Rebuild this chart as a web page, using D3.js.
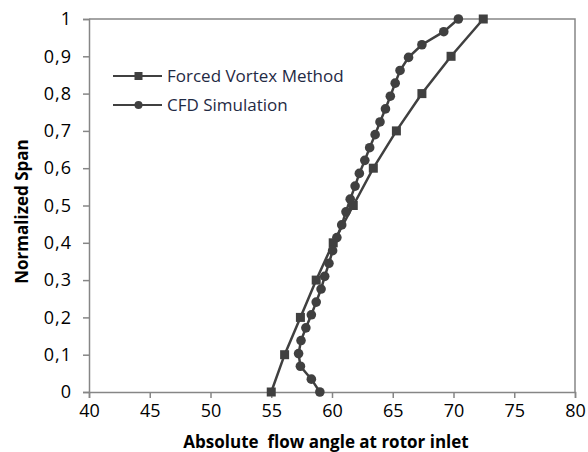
<!DOCTYPE html>
<html>
<head>
<meta charset="utf-8">
<script src="https://cdn.jsdelivr.net/npm/d3@7"></script>
<style>
  body { margin: 0; background: #fff; }
  text { font-family: "Open Sans", "Noto Sans", sans-serif; }
</style>
</head>
<body>
<div id="chart"></div>
<script>
var width = 588
var height = 452

// forced vortex method, one point per 0.1 span
var forcedSpan = [0, 0.1, 0.2, 0.3, 0.4, 0.5, 0.6, 0.7, 0.8, 0.9, 1]
var forcedAngle = [55.0, 56.1, 57.4, 58.7, 60.1, 61.75, 63.4, 65.3, 67.4, 69.8, 72.45]

// CFD simulation
var cfdSpan = [0, 0.0345, 0.069, 0.103, 0.138, 0.172, 0.207, 0.241, 0.276, 0.31,
               0.345, 0.379, 0.414, 0.448, 0.483, 0.517, 0.552, 0.586, 0.621, 0.655,
               0.69, 0.724, 0.759, 0.793, 0.828, 0.862, 0.897, 0.931, 0.966, 1]
var cfdAngle = [59.0, 58.3, 57.4, 57.25, 57.45, 57.85, 58.3, 58.7, 59.1, 59.4,
                59.75, 60.05, 60.4, 60.8, 61.15, 61.5, 61.9, 62.25, 62.7, 63.1,
                63.55, 63.95, 64.4, 64.8, 65.2, 65.6, 66.3, 67.4, 69.2, 70.4]

var xTicks = [40, 45, 50, 55, 60, 65, 70, 75, 80]
var yTicks = [0, 0.1, 0.2, 0.3, 0.4, 0.5, 0.6, 0.7, 0.8, 0.9, 1]
var seriesNames = ["Forced Vortex Method", "CFD Simulation"]

var margin = {left: 89, right: 13, top: 19, bottom: 60}

var x = d3.scaleLinear().domain([40, 80]).range([margin.left, width - margin.right])
var y = d3.scaleLinear().domain([0, 1]).range([height - margin.bottom, margin.top])

var svg = d3.select("#chart").append("svg")
    .attr("width", width)
    .attr("height", height)

var axisColor = "#868686"
var markColor = "#404040"

// plot area border (top + right)
svg.append("path")
    .attr("d", "M" + x(40) + "," + y(1) + "H" + x(80) + "V" + y(0))
    .attr("fill", "none")
    .attr("stroke", axisColor)
    .attr("stroke-width", 1.5)

var xAxis = svg.append("g")
    .attr("transform", "translate(0," + y(0) + ")")
    .call(d3.axisBottom(x).tickValues(xTicks).tickSize(6).tickPadding(6))
var yAxis = svg.append("g")
    .attr("transform", "translate(" + x(40) + ",0)")
    .call(d3.axisLeft(y).tickValues(yTicks).tickSize(6).tickPadding(11)
        .tickFormat(function(d) { return d3.format("")(d).replace(".", ","); }))

;[xAxis, yAxis].forEach(function(g) {
    g.select(".domain").attr("stroke", axisColor).attr("stroke-width", 1.5)
    g.selectAll(".tick line").attr("stroke", axisColor).attr("stroke-width", 1.5)
    g.selectAll(".tick text")
        .attr("fill", "#000")
        .style("font-size", "18px")
})
yAxis.selectAll(".tick text").attr("letter-spacing", "1px")

svg.append("text")
    .attr("x", (x(40) + x(80)) / 2 - 6)
    .attr("y", 448)
    .attr("text-anchor", "middle")
    .style("font-size", "17px")
    .style("font-weight", "bold")
    .attr("fill", "#000")
    .style("white-space", "pre")
    .text("Absolute  flow angle at rotor inlet")

svg.append("text")
    .attr("transform", "translate(28," + (y(0.5) + 6) + ") rotate(-90)")
    .attr("text-anchor", "middle")
    .style("font-size", "17px")
    .style("font-weight", "bold")
    .attr("fill", "#000")
    .text("Normalized Span")

var line = d3.line()
    .x(function(d) { return x(d[0]); })
    .y(function(d) { return y(d[1]); })

var forced = forcedAngle.map(function(a, i) { return [a, forcedSpan[i]]; })
var cfd = cfdAngle.map(function(a, i) { return [a, cfdSpan[i]]; })

svg.append("path").datum(forced)
    .attr("d", line)
    .attr("fill", "none")
    .attr("stroke", markColor)
    .attr("stroke-width", 2.5)
svg.append("path").datum(cfd)
    .attr("d", line)
    .attr("fill", "none")
    .attr("stroke", markColor)
    .attr("stroke-width", 2.5)

svg.selectAll("rect.forced")
    .data(forced)
    .enter().append("rect")
        .attr("class", "forced")
        .attr("x", function(d) { return x(d[0]) - 4.5; })
        .attr("y", function(d) { return y(d[1]) - 4.5; })
        .attr("width", 9)
        .attr("height", 9)
        .attr("fill", markColor)

svg.selectAll("circle.cfd")
    .data(cfd)
    .enter().append("circle")
        .attr("class", "cfd")
        .attr("cx", function(d) { return x(d[0]); })
        .attr("cy", function(d) { return y(d[1]); })
        .attr("r", 4.8)
        .attr("fill", markColor)

// legend
var legend = svg.append("g").attr("transform", "translate(113,76)")
seriesNames.forEach(function(name, i) {
    var g = legend.append("g").attr("transform", "translate(0," + (i * 29) + ")")
    g.append("line")
        .attr("x1", 0).attr("x2", 49)
        .attr("stroke", markColor)
        .attr("stroke-width", 2)
    if (i === 0) {
        g.append("rect").attr("x", 21.5).attr("y", -4).attr("width", 8).attr("height", 8)
            .attr("fill", markColor)
    } else {
        g.append("circle").attr("cx", 25.5).attr("r", 4).attr("fill", markColor)
    }
    g.append("text")
        .attr("x", 54)
        .attr("y", 6)
        .style("font-size", "17px")
        .attr("fill", "#1f2a44")
        .text(name)
})
</script>
</body>
</html>
